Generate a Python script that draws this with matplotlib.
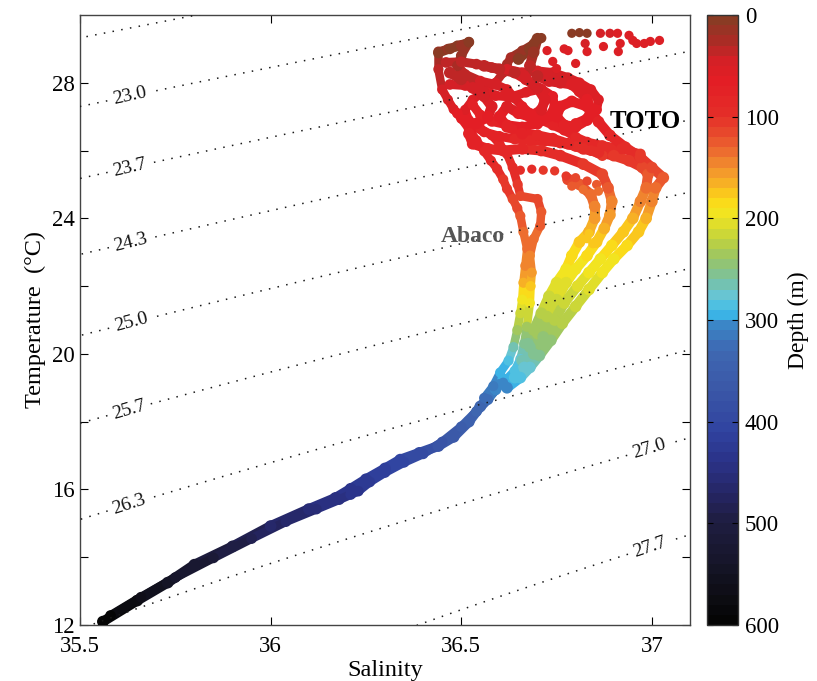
import numpy as np
import matplotlib
matplotlib.use("Agg")
import matplotlib.pyplot as plt
from matplotlib.collections import LineCollection
from matplotlib.colors import LinearSegmentedColormap, Normalize
from matplotlib.cm import ScalarMappable

plt.rcParams['font.family'] = ['Liberation Serif', 'DejaVu Serif']

# ---------------------------------------------------------------------------
# CTD casts: salinity, temperature (degC) and depth (m) along each profile
# ---------------------------------------------------------------------------
# deep common water-mass line
tail_sal = [36.61, 36.59, 36.57, 36.55, 36.52, 36.48, 36.44, 36.39, 36.34, 36.30,
            36.25, 36.21, 36.17, 36.10, 36.00, 35.90, 35.80, 35.73, 35.65, 35.56]
tail_temp = [19.25, 18.95, 18.70, 18.45, 18.00, 17.55, 17.28, 17.08, 16.88, 16.62,
             16.30, 16.02, 15.75, 15.42, 14.92, 14.32, 13.78, 13.25, 12.72, 12.10]
tail_depth = [296, 306, 318, 330, 345, 362, 375, 390, 402, 412,
              422, 432, 442, 452, 468, 492, 520, 545, 570, 600]

tail2_sal = [36.60, 36.57, 36.54, 36.50, 36.45, 36.40, 36.35, 36.30, 36.26, 36.23,
             36.21, 36.18, 36.12, 36.04, 35.95, 35.85, 35.75, 35.66, 35.58]
tail2_temp = [19.10, 18.65, 18.30, 17.85, 17.40, 17.05, 16.80, 16.50, 16.22, 15.95,
              15.85, 15.70, 15.42, 15.05, 14.55, 13.98, 13.40, 12.82, 12.28]
tail2_depth = [300, 322, 338, 355, 372, 392, 404, 414, 424, 433,
               437, 444, 455, 468, 485, 510, 536, 565, 590]

# Abaco profiles
abw_sal = [36.52, 36.49, 36.465, 36.44, 36.44, 36.45, 36.465, 36.48, 36.50, 36.52,
           36.54, 36.56, 36.578, 36.594, 36.61, 36.62, 36.635, 36.647, 36.655, 36.663,
           36.673, 36.668, 36.663, 36.66, 36.655, 36.647, 36.637, 36.624, 36.602, 36.584,
           36.56]
abw_temp = [29.20, 29.10, 29.00, 28.92, 28.40, 27.80, 27.50, 27.22, 26.94, 26.64,
            26.30, 25.98, 25.70, 25.46, 25.15, 24.87, 24.57, 24.30, 24.07, 23.60,
            23.10, 22.60, 22.10, 21.60, 21.20, 20.70, 20.20, 19.80, 19.45, 19.05,
            18.70]
abw_depth = [4, 8, 12, 18, 30, 42, 48, 54, 60, 66,
             74, 80, 86, 94, 100, 106, 112, 118, 124, 130,
             136, 148, 168, 192, 210, 235, 262, 285, 298, 312,
             325]

abe_sal = [36.71, 36.69, 36.66, 36.63, 36.62, 36.61, 36.59, 36.56, 36.53, 36.51,
           36.52, 36.55, 36.58, 36.60, 36.62, 36.635, 36.648, 36.655, 36.70, 36.71,
           36.707, 36.69, 36.68, 36.685, 36.682, 36.68, 36.672, 36.665, 36.655, 36.64,
           36.61]
abe_temp = [29.32, 29.15, 28.95, 28.75, 28.55, 28.30, 28.00, 27.75, 27.50, 27.20,
            26.90, 26.65, 26.45, 26.20, 25.90, 25.50, 25.00, 24.66, 24.57, 24.19,
            23.78, 23.39, 22.90, 22.40, 22.00, 21.50, 20.80, 20.30, 19.85, 19.50,
            19.15]
abe_depth = [4, 8, 14, 20, 28, 34, 40, 46, 52, 58,
             64, 70, 75, 80, 86, 94, 102, 110, 114, 120,
             127, 133, 142, 155, 172, 198, 232, 255, 275, 288,
             302]

# mixed-layer profiles in the warm surface pool
c2_sal = [36.44, 36.47, 36.50, 36.52, 36.50, 36.49, 36.51, 36.55, 36.59, 36.62,
          36.64, 36.66, 36.68, 36.71, 36.74, 36.77, 36.80, 36.83, 36.87, 36.92,
          36.97]
c2_temp = [28.88, 29.00, 29.10, 29.20, 28.80, 28.50, 28.25, 28.05, 27.95, 27.80,
           27.55, 27.30, 27.10, 26.90, 26.75, 26.60, 26.40, 26.25, 26.15, 26.05,
           25.90]
c2_depth = [5, 8, 10, 6, 18, 28, 36, 42, 46, 50,
            55, 60, 64, 68, 72, 76, 82, 86, 90, 96,
            102]

c5_sal = [36.46, 36.50, 36.54, 36.58, 36.62, 36.66, 36.70, 36.74, 36.78, 36.81,
          36.84, 36.86, 36.855, 36.83, 36.80]
c5_temp = [28.60, 28.62, 28.55, 28.45, 28.40, 28.30, 28.35, 28.30, 28.15, 28.00,
           27.80, 27.50, 27.20, 26.95, 26.80]
c5_depth = [32, 34, 36, 38, 40, 42, 44, 46, 48, 50,
            54, 58, 62, 66, 70]

c6_sal = [36.47, 36.51, 36.55, 36.59, 36.63, 36.67, 36.71, 36.74, 36.745, 36.73,
          36.70, 36.66, 36.62, 36.58, 36.55, 36.53]
c6_temp = [27.95, 27.92, 27.82, 27.62, 27.58, 27.72, 27.82, 27.60, 27.30, 27.00,
           26.78, 26.70, 26.76, 26.86, 27.05, 27.35]
c6_depth = [44, 46, 48, 52, 54, 56, 58, 60, 62, 64,
            66, 68, 70, 72, 74, 76]

c7_sal = [36.49, 36.52, 36.56, 36.60, 36.64, 36.68, 36.72, 36.76, 36.80, 36.84,
          36.87]
c7_temp = [27.10, 26.80, 26.55, 26.42, 26.34, 26.30, 26.28, 26.22, 26.12, 26.00,
           25.85]
c7_depth = [60, 66, 72, 76, 80, 84, 86, 88, 92, 96,
            100]

# TOTO profiles
toto1_sal = [36.65, 36.68, 36.70, 36.69, 36.68, 36.70, 36.73, 36.76, 36.79, 36.81,
             36.83, 36.84, 36.83, 36.80, 36.77, 36.75, 36.76, 36.79, 36.83, 36.86,
             36.89, 36.93, 36.97, 37.00, 37.03, 37.01, 37.00, 36.985, 36.965, 36.935,
             36.90, 36.87, 36.835, 36.80, 36.765, 36.735, 36.705, 36.68, 36.655, 36.62]
toto1_temp = [28.70, 29.00, 29.30, 28.90, 28.50, 28.20, 28.05, 28.00, 27.95, 27.75,
              27.50, 27.20, 26.90, 26.70, 26.75, 27.00, 27.30, 27.45, 27.30, 26.85,
              26.45, 26.10, 25.80, 25.50, 25.20, 24.90, 24.50, 24.00, 23.60, 23.20,
              22.80, 22.40, 21.90, 21.40, 20.90, 20.40, 19.95, 19.60, 19.30, 19.00]
toto1_depth = [5, 6, 4, 18, 30, 38, 44, 48, 52, 56,
               60, 64, 68, 72, 70, 66, 62, 60, 64, 72,
               82, 92, 102, 115, 122, 132, 148, 165, 175, 183,
               190, 197, 205, 215, 226, 240, 258, 272, 285, 300]

toto2_sal = [36.56, 36.60, 36.64, 36.67, 36.70, 36.72, 36.71, 36.68, 36.65, 36.62,
             36.60, 36.62, 36.66, 36.70, 36.74, 36.78, 36.82, 36.86, 36.90, 36.94,
             36.975, 36.99, 36.985, 36.97, 36.95, 36.925, 36.895, 36.865, 36.835, 36.805,
             36.77, 36.745, 36.715, 36.69, 36.665, 36.64]
toto2_temp = [28.50, 28.40, 28.30, 28.10, 27.85, 27.50, 27.20, 27.00, 27.10, 27.30,
              27.00, 26.70, 26.50, 26.45, 26.35, 26.20, 26.05, 25.95, 25.85, 25.70,
              25.50, 25.30, 24.90, 24.50, 24.00, 23.60, 23.20, 22.80, 22.40, 22.00,
              21.50, 21.00, 20.50, 20.00, 19.60, 19.30]
toto2_depth = [30, 34, 38, 42, 48, 54, 58, 62, 60, 58,
               64, 70, 76, 80, 84, 88, 92, 96, 100, 106,
               112, 120, 132, 148, 165, 175, 183, 190, 197, 205,
               215, 226, 240, 258, 272, 285]

toto3_sal = [36.47, 36.50, 36.53, 36.56, 36.58, 36.57, 36.54, 36.52, 36.53, 36.57,
             36.61, 36.66, 36.71, 36.76, 36.82, 36.87, 36.885, 36.895, 36.89, 36.875,
             36.855, 36.83, 36.80, 36.775, 36.75, 36.725, 36.70, 36.68, 36.66]
toto3_temp = [28.30, 28.10, 27.85, 27.60, 27.30, 27.00, 26.80, 26.50, 26.20, 26.05,
              26.00, 26.05, 26.00, 25.85, 25.60, 25.30, 24.90, 24.50, 24.10, 23.70,
              23.30, 22.90, 22.50, 22.10, 21.60, 21.10, 20.60, 20.20, 19.80]
toto3_depth = [30, 36, 42, 48, 54, 60, 64, 70, 76, 82,
               86, 88, 92, 96, 102, 112, 126, 142, 154, 165,
               176, 186, 195, 203, 213, 224, 238, 252, 268]

toto4_sal = [36.78, 36.81, 36.84, 36.85, 36.85, 36.835, 36.81, 36.79, 36.775, 36.75,
             36.73, 36.71, 36.69, 36.675]
toto4_temp = [25.15, 25.00, 24.70, 24.35, 24.00, 23.60, 23.30, 22.90, 22.50, 22.10,
              21.70, 21.20, 20.70, 20.30]
toto4_depth = [115, 122, 134, 145, 155, 166, 175, 185, 194, 202,
               210, 222, 238, 252]

# scattered single samples
loose_sal = [36.79, 36.81, 36.83, 36.865, 36.89, 36.91, 36.94, 36.95, 36.996, 37.02,
             36.917, 36.96, 36.98, 36.873, 36.825, 36.83, 36.78, 36.77, 36.912, 36.80,
             36.75, 36.74, 36.725, 36.655, 36.685, 36.715, 36.745, 36.775, 36.80, 36.83,
             36.855, 36.79, 36.82, 36.86, 36.81, 36.83, 36.845, 36.835]
loose_temp = [29.46, 29.48, 29.46, 29.46, 29.46, 29.46, 29.40, 29.25, 29.22, 29.25,
              29.16, 29.16, 29.16, 29.07, 29.16, 28.92, 28.95, 29.00, 28.92, 28.57,
              28.42, 28.63, 28.95, 25.42, 25.45, 25.42, 25.40, 25.25, 25.20, 25.10,
              25.00, 24.95, 24.85, 24.80, 23.30, 23.40, 23.25, 23.55]
loose_depth = [3, 4, 6, 45, 48, 50, 50, 52, 50, 50,
               52, 52, 50, 52, 40, 52, 50, 50, 52, 55,
               56, 55, 50, 98, 98, 100, 102, 108, 112, 118,
               124, 128, 132, 136, 175, 174, 178, 172]

# density (sigma-t) contour levels and label anchor points
sigma_levels = [22.333, 23.0, 23.667, 24.333, 25.0, 25.667, 26.333, 27.0, 27.667]
label_sal = [35.631, 35.631, 35.631, 35.631, 35.631, 35.631, 36.988, 36.988]
label_temp = [27.53, 25.46, 23.39, 21.02, 18.27, 15.49, 17.33, 14.46]

x_ticks = [35.5, 36.0, 36.5, 37.0]
x_ticklabels = ['35.5', '36', '36.5', '37']
y_ticks = [12, 14, 16, 18, 20, 22, 24, 26, 28]
y_ticklabels = ['12', '', '16', '', '20', '', '24', '', '28']
depth_ticks = [0, 100, 200, 300, 400, 500, 600]

# (salinity, temperature, depth, trace width in px)
casts = [
    (tail_sal, tail_temp, tail_depth, 10.0),
    (tail2_sal, tail2_temp, tail2_depth, 9.0),
    (abw_sal, abw_temp, abw_depth, 8.5),
    (abe_sal, abe_temp, abe_depth, 8.5),
    (c2_sal, c2_temp, c2_depth, 9.0),
    (c5_sal, c5_temp, c5_depth, 9.0),
    (c6_sal, c6_temp, c6_depth, 9.0),
    (c7_sal, c7_temp, c7_depth, 9.0),
    (toto4_sal, toto4_temp, toto4_depth, 10.0),
    (toto3_sal, toto3_temp, toto3_depth, 10.0),
    (toto2_sal, toto2_temp, toto2_depth, 10.0),
    (toto1_sal, toto1_temp, toto1_depth, 10.0),
]


def sigma_t(S, T):
    """UNESCO (1981) one-atmosphere density of seawater minus 1000."""
    rho_w = (999.842594 + 6.793952e-2 * T - 9.095290e-3 * T**2
             + 1.001685e-4 * T**3 - 1.120083e-6 * T**4 + 6.536332e-9 * T**5)
    A = (8.24493e-1 - 4.0899e-3 * T + 7.6438e-5 * T**2
         - 8.2467e-7 * T**3 + 5.3875e-9 * T**4)
    B = -5.72466e-3 + 1.0227e-4 * T - 1.6546e-6 * T**2
    C = 4.8314e-4
    return rho_w + A * S + B * S**1.5 + C * S**2 - 1000.0


# depth colour scale (surface brown-red through yellow, cyan, blue to black)
depth_stops = [
    (0, '#8a3b24'), (20, '#a82c25'), (40, '#d42026'), (60, '#e31e25'),
    (90, '#e42a28'), (105, '#e63c2b'), (120, '#e9552e'), (135, '#ee732f'),
    (150, '#f3962c'), (165, '#f8b524'), (178, '#fcd318'), (190, '#f7e61d'),
    (205, '#dedd2c'), (220, '#bfd23f'), (235, '#a0c75f'), (250, '#88c283'),
    (262, '#76c1ab'), (275, '#68c5d3'), (292, '#3cbdec'), (298, '#3aa6de'),
    (305, '#3b86c7'), (330, '#3e68b2'), (370, '#3b57a7'), (410, '#3043a0'),
    (440, '#2b3389'), (470, '#262768'), (500, '#1f1d42'), (540, '#17162b'),
    (575, '#0d0d14'), (600, '#050505'),
]
cmap = LinearSegmentedColormap.from_list(
    'depth', [(d / 600.0, c) for d, c in depth_stops], N=60)
norm = Normalize(0, 600)

fig = plt.figure(figsize=(8.17, 6.81), dpi=100)
ax = fig.add_axes([80 / 817, 56 / 681, 610 / 817, 610 / 681])

# profiles: thick coloured traces with a dot at each sample
for sal, temp, dep, lw in casts:
    pts = np.column_stack([sal, temp])
    segs = np.stack([pts[:-1], pts[1:]], axis=1)
    dep = np.asarray(dep, dtype=float)
    lc = LineCollection(segs, cmap=cmap, norm=norm, linewidths=lw * 0.72,
                        capstyle='round', joinstyle='round', zorder=2)
    lc.set_array((dep[:-1] + dep[1:]) / 2)
    ax.add_collection(lc)
    ax.scatter(sal, temp, c=dep, cmap=cmap, norm=norm, s=(lw * 0.72 + 1.2) ** 2,
               edgecolors='none', zorder=3)

ax.scatter(loose_sal, loose_temp, c=loose_depth, cmap=cmap, norm=norm, s=44,
           edgecolors='none', zorder=3)

# isopycnals
S_grid, T_grid = np.meshgrid(np.linspace(35.4, 37.2, 300), np.linspace(11.5, 30.5, 300))
cs = ax.contour(S_grid, T_grid, sigma_t(S_grid, T_grid), levels=sigma_levels,
                colors='#1a1a1a', linewidths=1.1, zorder=4)
cs.set_linestyle((0, (1.0, 4.8)))
ax.clabel(cs, fmt='%.1f', fontsize=14, colors='#111111',
          inline=True, inline_spacing=3,
          manual=list(zip(label_sal, label_temp)))

ax.text(36.983, 26.85, 'TOTO', fontsize=18, fontweight='bold',
        ha='center', va='center', color='black', zorder=5)
ax.text(36.53, 23.45, 'Abaco', fontsize=17, fontweight='bold',
        ha='center', va='center', color='#555555', zorder=5)

ax.set_xlim(35.5, 37.1)
ax.set_ylim(12, 30)
ax.set_xticks(x_ticks)
ax.set_xticklabels(x_ticklabels)
ax.set_yticks(y_ticks)
ax.set_yticklabels(y_ticklabels)
ax.tick_params(direction='in', length=6, width=0.8, top=True, right=True,
               labelsize=16.5, pad=4)
ax.tick_params(axis='x', pad=8)
for sp in ax.spines.values():
    sp.set_color('#444444')
    sp.set_linewidth(1.0)
ax.set_xlabel('Salinity', fontsize=17.5, labelpad=2)
ax.set_ylabel('Temperature  (\u00b0C)', fontsize=17.5, labelpad=4)

# depth colour bar
cax = fig.add_axes([707 / 817, 56 / 681, 31 / 817, 610 / 681])
cb = fig.colorbar(ScalarMappable(norm=norm, cmap=cmap), cax=cax)
cb.set_ticks(depth_ticks)
cax.invert_yaxis()
cax.tick_params(direction='in', length=4, width=0.8, left=True, right=True,
                labelleft=False, labelright=True, labelsize=16.5, pad=5)
cb.outline.set_edgecolor('#333333')
cb.outline.set_linewidth(1.0)
cb.set_label('Depth (m)', fontsize=17, labelpad=6)

fig.savefig('out.png', dpi=100)
